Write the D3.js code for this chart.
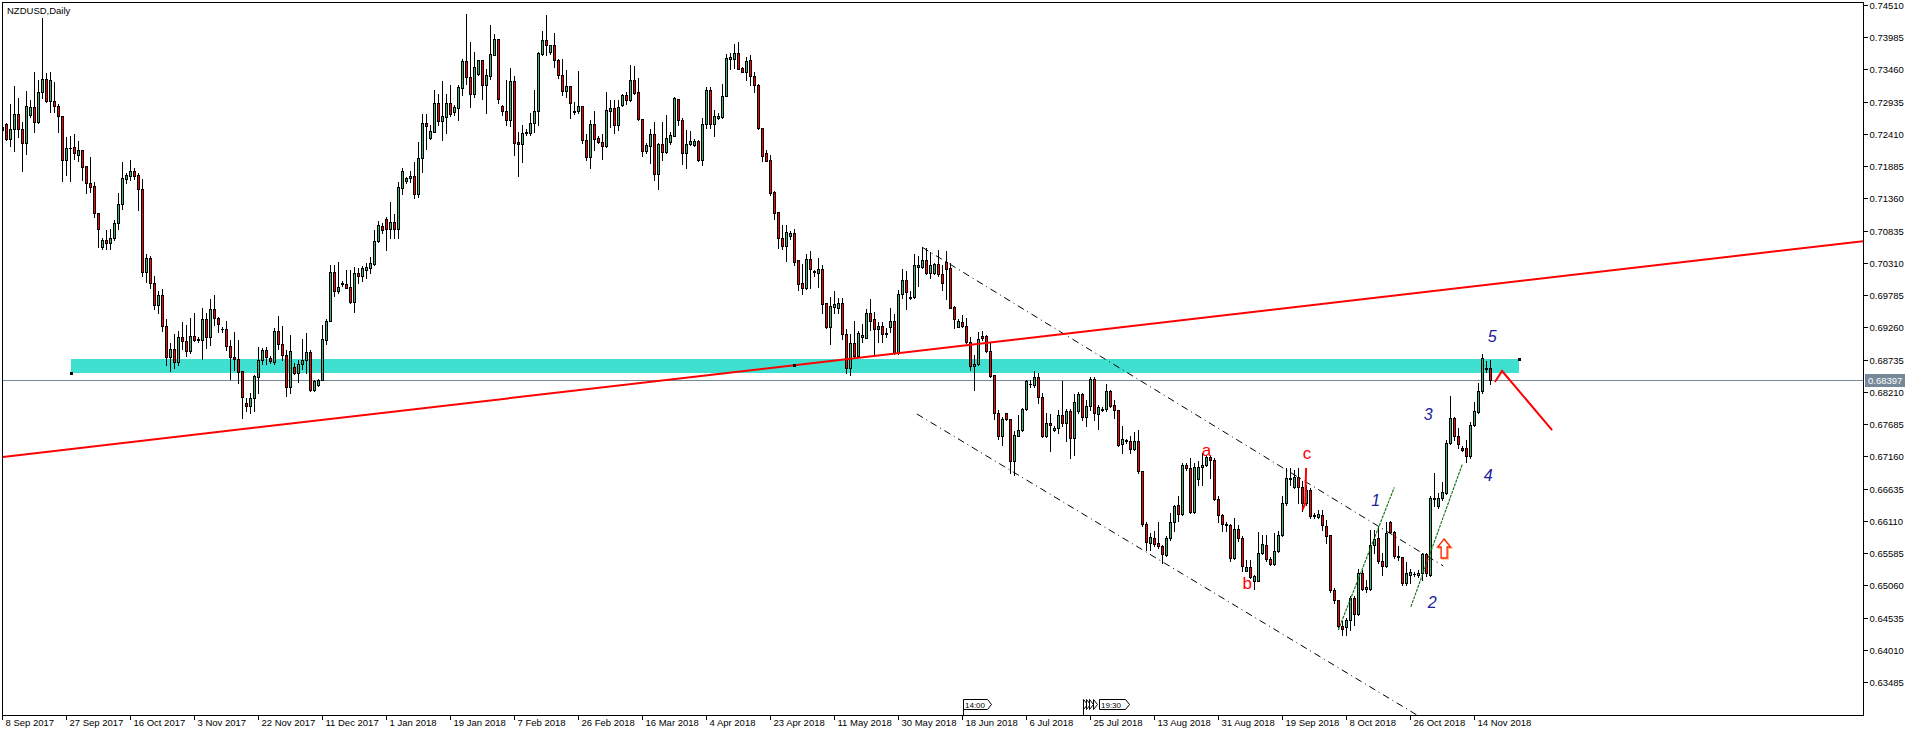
<!DOCTYPE html>
<html><head><meta charset="utf-8">
<script src="https://cdn.jsdelivr.net/npm/d3@7"></script>
<style>
html,body{margin:0;padding:0;background:#fff;overflow:hidden;}
svg{display:block;}
text{font-family:"Liberation Sans",Arial,sans-serif;}
</style></head><body>
<svg id="c" width="1916" height="734"></svg>
<script>
// ---------- DATA ----------
const symbolTitle = "NZDUSD,Daily";
// daily candles [open, high, low, close], oldest first
const ohlc = [
[0.72522,0.72587,0.72435,0.72468],[0.72576,0.72587,0.72305,0.72332],[0.72332,0.72901,0.72208,0.72495],[0.72495,0.73183,0.72132,0.72739],[0.72739,0.72999,0.72359,0.72484],
[0.72484,0.72603,0.71807,0.72267],[0.72262,0.73107,0.72088,0.72869],[0.72723,0.72966,0.72685,0.72853],[0.72853,0.73416,0.72441,0.72603],[0.72603,0.73281,0.72587,0.73097],
[0.73097,0.74300,0.72999,0.73308],[0.73308,0.73405,0.72929,0.72950],[0.72950,0.73411,0.72766,0.73292],[0.72939,0.73254,0.72766,0.72864],[0.72869,0.72891,0.72441,0.72706],
[0.72706,0.72706,0.71644,0.71985],[0.71985,0.72365,0.71736,0.72175],[0.72175,0.72370,0.71644,0.72186],[0.72191,0.72414,0.72007,0.72105],[0.72072,0.72294,0.71969,0.72154],
[0.72154,0.72154,0.71655,0.71871],[0.71882,0.71882,0.71438,0.71601],[0.71601,0.72034,0.71465,0.71546],[0.71557,0.71628,0.71059,0.71113],[0.71124,0.71124,0.70571,0.70864],
[0.70571,0.70712,0.70533,0.70674],[0.70679,0.70842,0.70538,0.70625],[0.70625,0.70858,0.70533,0.70706],[0.70706,0.71005,0.70679,0.70950],[0.70950,0.71449,0.70864,0.71275],
[0.71275,0.71947,0.71189,0.71698],[0.71682,0.71774,0.71601,0.71736],[0.71725,0.71980,0.71655,0.71812],[0.71812,0.71845,0.71682,0.71725],[0.71736,0.71774,0.71167,0.71519],
[0.71519,0.71682,0.70100,0.70160],[0.70160,0.70450,0.70000,0.70380],[0.70380,0.70420,0.69900,0.69980],[0.69980,0.70100,0.69550,0.69620],[0.69620,0.69850,0.69500,0.69780],
[0.69780,0.69880,0.69200,0.69280],[0.69280,0.69400,0.68650,0.68780],[0.68780,0.69000,0.68550,0.68900],[0.68900,0.69150,0.68600,0.68700],[0.68700,0.69200,0.68650,0.69100],
[0.69100,0.69350,0.68900,0.69040],[0.69038,0.69298,0.68799,0.68880],[0.68880,0.69406,0.68837,0.69113],[0.69113,0.69488,0.69043,0.69054],[0.69060,0.69108,0.69027,0.69070],
[0.69054,0.69569,0.68740,0.69390],[0.69390,0.69488,0.68918,0.69097],[0.69097,0.69715,0.68972,0.69552],[0.69552,0.69786,0.69292,0.69417],[0.69417,0.69433,0.69189,0.69309],
[0.69238,0.69271,0.69189,0.69227],[0.69233,0.69368,0.68891,0.68962],[0.68962,0.69054,0.68420,0.68772],[0.68777,0.69184,0.68566,0.68740],[0.68740,0.69054,0.68349,0.68539],
[0.68550,0.68550,0.67791,0.68133],[0.68035,0.68105,0.67889,0.67986],[0.67986,0.68187,0.67872,0.68105],[0.68105,0.68485,0.67889,0.68469],[0.68458,0.68945,0.68187,0.68729],
[0.68729,0.68918,0.68658,0.68891],[0.68891,0.68945,0.68658,0.68783],[0.68767,0.68794,0.68685,0.68707],[0.68702,0.69254,0.68658,0.69200],[0.69200,0.69444,0.68902,0.68983],
[0.68983,0.69281,0.68729,0.68810],[0.68810,0.68891,0.68149,0.68295],[0.68295,0.69135,0.68187,0.68875],[0.68615,0.68685,0.68501,0.68523],[0.68523,0.68729,0.68376,0.68658],
[0.68658,0.69065,0.68577,0.68729],[0.68729,0.69162,0.68512,0.68853],[0.68853,0.68891,0.68224,0.68241],[0.68241,0.68404,0.68224,0.68387],[0.68322,0.68425,0.68311,0.68398],
[0.68398,0.69292,0.68398,0.69070],[0.69054,0.69395,0.68989,0.69357],[0.69357,0.70273,0.69357,0.70154],[0.70154,0.70273,0.69769,0.69856],[0.69856,0.70317,0.69813,0.69910],
[0.69970,0.70013,0.69937,0.69981],[0.69959,0.70192,0.69894,0.69905],[0.69910,0.70192,0.69650,0.69677],[0.69677,0.70246,0.69515,0.70149],[0.70149,0.70219,0.69975,0.70100],
[0.70100,0.70257,0.70013,0.70219],[0.70192,0.70311,0.70067,0.70246],[0.70230,0.70398,0.70138,0.70311],[0.70284,0.70842,0.70273,0.70664],[0.70664,0.70989,0.70653,0.70924],
[0.70907,0.70951,0.70788,0.70842],[0.71016,0.71059,0.70517,0.70853],[0.70853,0.71303,0.70707,0.70967],[0.70967,0.71097,0.70707,0.70853],[0.70853,0.71628,0.70707,0.71542],
[0.71531,0.71856,0.71422,0.71802],[0.71639,0.71710,0.71601,0.71688],[0.71683,0.71807,0.71628,0.71715],[0.71715,0.71943,0.71368,0.71422],[0.71422,0.72279,0.71385,0.72024],
[0.72024,0.72740,0.71791,0.72593],[0.72593,0.72740,0.72170,0.72539],[0.72344,0.72550,0.72322,0.72452],[0.72441,0.73119,0.72441,0.72918],[0.72918,0.73065,0.72561,0.72620],
[0.72620,0.73276,0.72311,0.72696],[0.72685,0.73065,0.72430,0.72918],[0.72918,0.73211,0.72702,0.72729],[0.72767,0.72875,0.72723,0.72842],[0.72837,0.73200,0.72631,0.73168],
[0.73157,0.73623,0.73038,0.73590],[0.73590,0.74355,0.73222,0.73341],[0.73341,0.73905,0.72848,0.73065],[0.73065,0.73742,0.73011,0.73504],[0.73379,0.73607,0.73363,0.73607],
[0.73607,0.73607,0.72983,0.73211],[0.73211,0.73471,0.72750,0.73363],[0.73346,0.74176,0.73309,0.73704],[0.73699,0.74040,0.73688,0.73959],[0.73959,0.73959,0.72913,0.72983],
[0.72859,0.72886,0.72723,0.72788],[0.72788,0.73282,0.72550,0.72642],[0.72642,0.73482,0.72539,0.73265],[0.73265,0.73346,0.72062,0.72268],[0.72279,0.72441,0.71726,0.72236],
[0.72236,0.72550,0.71954,0.72430],[0.72420,0.72485,0.72387,0.72436],[0.72430,0.72756,0.72387,0.72593],[0.72593,0.73119,0.72441,0.72788],[0.72788,0.73742,0.72561,0.73721],
[0.73715,0.74084,0.73688,0.73932],[0.73932,0.74338,0.73688,0.73861],[0.73737,0.73861,0.73715,0.73851],[0.73851,0.74057,0.73498,0.73607],[0.73607,0.73623,0.73319,0.73374],
[0.73374,0.73623,0.73038,0.73113],[0.73102,0.73444,0.73005,0.73184],[0.73183,0.73183,0.72674,0.72912],[0.72782,0.72929,0.72739,0.72772],[0.72777,0.73427,0.72750,0.72869],
[0.72869,0.72869,0.72262,0.72316],[0.72316,0.72403,0.71991,0.72034],[0.72034,0.72641,0.71845,0.72576],[0.72576,0.72782,0.72143,0.72327],[0.72338,0.72370,0.72268,0.72284],
[0.72284,0.72403,0.71996,0.72213],[0.72213,0.73086,0.72197,0.72793],[0.72782,0.72967,0.72522,0.72837],[0.72837,0.72956,0.72425,0.72560],[0.72560,0.72956,0.72468,0.72853],
[0.72875,0.73064,0.72858,0.73048],[0.73048,0.73091,0.72891,0.72956],[0.72956,0.73525,0.72945,0.73281],[0.73281,0.73514,0.73064,0.73075],[0.73086,0.73319,0.72631,0.72647],
[0.72658,0.72658,0.72045,0.72132],[0.72132,0.72262,0.72099,0.72224],[0.72213,0.72490,0.71937,0.72403],[0.72403,0.72598,0.71655,0.71763],[0.71763,0.72262,0.71514,0.72240],
[0.72240,0.72598,0.71980,0.72116],[0.72116,0.72712,0.72105,0.72349],[0.72273,0.72435,0.72251,0.72387],[0.72381,0.73010,0.72370,0.72988],[0.72983,0.72983,0.72549,0.72641],
[0.72641,0.72674,0.71926,0.72090],[0.72090,0.72468,0.71861,0.72251],[0.72240,0.72457,0.72224,0.72289],[0.72235,0.72327,0.72219,0.72300],[0.72300,0.72305,0.71969,0.71980],
[0.71980,0.72674,0.71910,0.72576],[0.72576,0.73173,0.72506,0.73129],[0.73129,0.73173,0.72511,0.72576],[0.72576,0.72793,0.72381,0.72696],[0.72674,0.72750,0.72658,0.72696],
[0.72685,0.73227,0.72674,0.73021],[0.73021,0.73715,0.73021,0.73650],[0.73633,0.73725,0.73460,0.73655],[0.73633,0.73866,0.73476,0.73731],[0.73731,0.73899,0.73460,0.73471],
[0.73482,0.73498,0.73411,0.73422],[0.73422,0.73660,0.73281,0.73595],[0.73606,0.73687,0.73200,0.73346],[0.73346,0.73417,0.73091,0.73200],[0.73200,0.73227,0.72490,0.72506],
[0.72506,0.72506,0.71964,0.72051],[0.72105,0.72143,0.71964,0.71970],[0.71981,0.72062,0.71411,0.71449],[0.71466,0.71476,0.71016,0.71124],[0.71130,0.71130,0.70544,0.70707],
[0.70707,0.70924,0.70528,0.70588],[0.70588,0.70924,0.70338,0.70804],[0.70750,0.70826,0.70696,0.70788],[0.70788,0.70859,0.70273,0.70327],[0.70349,0.70349,0.69867,0.69970],
[0.69975,0.70284,0.69807,0.69905],[0.69905,0.70452,0.69883,0.70371],[0.70371,0.70501,0.69905,0.70203],[0.70170,0.70197,0.70100,0.70159],[0.70148,0.70382,0.69921,0.70208],
[0.70208,0.70273,0.69498,0.69645],[0.69650,0.69661,0.69254,0.69265],[0.69265,0.69748,0.68994,0.69607],[0.69596,0.69851,0.69498,0.69640],[0.69580,0.69731,0.69498,0.69661],
[0.69661,0.69731,0.69070,0.69146],[0.69146,0.69233,0.68512,0.68604],[0.68604,0.69151,0.68485,0.69000],[0.69000,0.69368,0.68783,0.68799],[0.68799,0.69200,0.68783,0.69162],
[0.69108,0.69309,0.69027,0.69135],[0.69092,0.69558,0.69081,0.69487],[0.69487,0.69715,0.69216,0.69368],[0.69390,0.69515,0.68810,0.69227],[0.69227,0.69352,0.69027,0.69282],
[0.69282,0.69341,0.69027,0.69146],[0.69168,0.69254,0.69108,0.69157],[0.69271,0.69569,0.69189,0.69363],[0.69363,0.69477,0.68821,0.68837],[0.68837,0.69867,0.68821,0.69796],
[0.69796,0.70208,0.69731,0.70030],[0.70030,0.70176,0.69558,0.69840],[0.69753,0.69851,0.69721,0.69742],[0.69748,0.70447,0.69731,0.70273],[0.70246,0.70425,0.69937,0.70273],
[0.70246,0.70561,0.70219,0.70349],[0.70349,0.70544,0.70132,0.70148],[0.70148,0.70490,0.70057,0.70273],[0.70148,0.70306,0.70132,0.70284],[0.70284,0.70517,0.70100,0.70121],
[0.70121,0.70273,0.69867,0.69986],[0.70327,0.70501,0.69715,0.70203],[0.70219,0.70301,0.69569,0.69580],[0.69596,0.69607,0.69244,0.69390],[0.69271,0.69390,0.69260,0.69363],
[0.69352,0.69461,0.69260,0.69282],[0.69282,0.69406,0.68999,0.69016],[0.69016,0.69097,0.68566,0.68637],[0.68637,0.68810,0.68241,0.68664],[0.68664,0.69190,0.68648,0.69070],
[0.69119,0.69206,0.69054,0.69092],[0.69119,0.69135,0.68853,0.68875],[0.68875,0.68999,0.68458,0.68469],[0.68485,0.68485,0.67769,0.67862],[0.67862,0.67916,0.67439,0.67498],
[0.67498,0.67807,0.67347,0.67769],[0.67862,0.67872,0.67753,0.67769],[0.67769,0.67769,0.66886,0.67076],[0.67076,0.67564,0.66859,0.67509],[0.67498,0.67824,0.67482,0.67591],
[0.67580,0.67943,0.67564,0.67926],[0.67926,0.68404,0.67916,0.68387],[0.68344,0.68404,0.68295,0.68333],[0.68315,0.68555,0.68295,0.68458],[0.68458,0.68523,0.68035,0.68133],
[0.68133,0.68196,0.67466,0.67498],[0.67498,0.67862,0.67466,0.67699],[0.67704,0.67851,0.67238,0.67666],[0.67580,0.67645,0.67564,0.67618],[0.67618,0.67916,0.67536,0.67835],
[0.67835,0.68387,0.67645,0.67699],[0.67699,0.67926,0.67401,0.67889],[0.67889,0.67926,0.67130,0.67455],[0.67455,0.68171,0.67184,0.68051],[0.67889,0.68214,0.67872,0.68176],
[0.68176,0.68187,0.67753,0.67797],[0.67797,0.68078,0.67656,0.67981],[0.67981,0.68458,0.67916,0.68414],[0.68414,0.68458,0.67753,0.67862],[0.67851,0.67997,0.67601,0.67959],
[0.67932,0.67954,0.67889,0.67921],[0.67926,0.68339,0.67905,0.68227],[0.68227,0.68241,0.67970,0.67986],[0.67997,0.68078,0.67780,0.67916],[0.67916,0.67916,0.67320,0.67347],
[0.67363,0.67645,0.67211,0.67444],[0.67417,0.67444,0.67374,0.67407],[0.67412,0.67493,0.67211,0.67276],[0.67276,0.67553,0.67265,0.67401],[0.67401,0.67591,0.66886,0.66913],
[0.66924,0.66924,0.66019,0.66057],[0.66057,0.66089,0.65639,0.65764],[0.65748,0.65910,0.65639,0.65840],[0.65829,0.65937,0.65693,0.65731],[0.65742,0.66089,0.65666,0.65693],
[0.65704,0.65720,0.65422,0.65569],[0.65558,0.65856,0.65531,0.65829],[0.65829,0.66235,0.65802,0.66089],[0.66089,0.66371,0.65937,0.66344],[0.66371,0.66506,0.66111,0.66219],
[0.66219,0.67048,0.66208,0.67010],[0.67010,0.67048,0.66940,0.66967],[0.66967,0.67130,0.66235,0.66252],[0.66252,0.67048,0.66235,0.66978],[0.66788,0.67075,0.66696,0.66983],
[0.66983,0.67211,0.66696,0.67021],[0.67010,0.67184,0.66994,0.67140],[0.67140,0.67184,0.66804,0.67097],[0.67097,0.67130,0.66452,0.66468],[0.66468,0.66517,0.66089,0.66208],
[0.66208,0.66219,0.65937,0.66057],[0.66057,0.66089,0.65937,0.66035],[0.66046,0.66057,0.65460,0.65504],[0.65504,0.66154,0.65493,0.65981],[0.65981,0.66046,0.65775,0.65829],
[0.65829,0.65856,0.65287,0.65368],[0.65298,0.65471,0.65287,0.65357],[0.65357,0.65476,0.65178,0.65189],[0.65135,0.65233,0.65005,0.65206],[0.65135,0.65926,0.65124,0.65585],
[0.65585,0.65883,0.65569,0.65731],[0.65720,0.65883,0.65449,0.65493],[0.65493,0.65525,0.65384,0.65406],[0.65406,0.65910,0.65395,0.65623],[0.65612,0.65937,0.65601,0.65872],
[0.65872,0.66506,0.65856,0.66398],[0.66398,0.66967,0.66371,0.66804],[0.66794,0.66967,0.66696,0.66804],[0.66653,0.66940,0.66642,0.66815],[0.66815,0.66967,0.66398,0.66653],
[0.66653,0.66750,0.66262,0.66398],[0.66398,0.66696,0.66371,0.66615],[0.66615,0.66642,0.66154,0.66181],[0.66208,0.66235,0.66154,0.66181],[0.66165,0.66290,0.66154,0.66219],
[0.66208,0.66290,0.65964,0.66035],[0.66030,0.66127,0.65748,0.65867],[0.65883,0.65883,0.64946,0.64978],[0.64989,0.65016,0.64772,0.64816],[0.64816,0.64816,0.64382,0.64393],
[0.64393,0.64475,0.64257,0.64349],[0.64382,0.64530,0.64257,0.64501],[0.64501,0.64881,0.64338,0.64854],[0.64854,0.64881,0.64420,0.64599],[0.64599,0.65325,0.64583,0.65260],
[0.65260,0.65314,0.64978,0.65000],[0.65000,0.65152,0.64946,0.65032],[0.65000,0.65965,0.64989,0.65721],[0.65721,0.65965,0.65585,0.65813],[0.65829,0.66019,0.65423,0.65450],
[0.65450,0.65585,0.65233,0.65368],[0.65368,0.66084,0.65358,0.65910],[0.66084,0.66100,0.65910,0.65921],[0.65921,0.65938,0.65504,0.65542],[0.65542,0.65694,0.65477,0.65520],
[0.65520,0.65520,0.65070,0.65098],[0.65098,0.65433,0.65070,0.65260],[0.65233,0.65325,0.65098,0.65276],[0.65244,0.65271,0.65206,0.65250],[0.65233,0.65314,0.65195,0.65260],
[0.65260,0.65585,0.65152,0.65569],[0.65569,0.65585,0.65206,0.65260],[0.65233,0.66507,0.65206,0.66480],[0.66463,0.66886,0.66344,0.66480],[0.66344,0.66562,0.66317,0.66480],
[0.66480,0.66736,0.66452,0.66572],[0.66562,0.67428,0.66550,0.67374],[0.67374,0.68143,0.67363,0.67780],[0.67780,0.67807,0.67428,0.67482],[0.67482,0.67618,0.67292,0.67363],
[0.67292,0.67320,0.67238,0.67265],[0.67292,0.67428,0.67059,0.67157],[0.67157,0.67726,0.67130,0.67672],[0.67661,0.68051,0.67645,0.67889],[0.67878,0.68360,0.67862,0.68225],
[0.68225,0.68826,0.68187,0.68756],[0.68604,0.68718,0.68539,0.68577],[0.68593,0.68729,0.68333,0.68397]
];
const dateLabels = ["8 Sep 2017","27 Sep 2017","16 Oct 2017","3 Nov 2017","22 Nov 2017","11 Dec 2017","1 Jan 2018","19 Jan 2018","7 Feb 2018","26 Feb 2018","16 Mar 2018","4 Apr 2018","23 Apr 2018","11 May 2018","30 May 2018","18 Jun 2018","6 Jul 2018","25 Jul 2018","13 Aug 2018","31 Aug 2018","19 Sep 2018","8 Oct 2018","26 Oct 2018","14 Nov 2018"];
const barsPerDateLabel = 16;
const priceTicks = [0.74510,0.73985,0.73460,0.72935,0.72410,0.71885,0.71360,0.70835,0.70310,0.69785,0.69260,0.68735,0.68210,0.67685,0.67160,0.66635,0.66110,0.65585,0.65060,0.64535,0.64010,0.63485];
const lastPrice = 0.68397;
// drawn objects (bar index, price)
const zoneBars = [17, 379];
const zonePrices = [0.68743, 0.68520];
const trendBars = [0, 372];
const trendPrices = [0.67148, 0.69958];
const trendAnchorBar = 197.9;
const projBars = [373.1, 374.9, 387.4];
const projPrices = [0.68369, 0.68548, 0.67587];
const chanUpBars = [229.95, 360.2];
const chanUpPrices = [0.70562, 0.65374];
const chanLoBars = [228.6, 356.9];
const chanLoPrices = [0.67848, 0.62818];
const green1Bars = [333.95, 347.95];
const green1Prices = [0.64332, 0.66653];
const green2Bars = [352.1, 364.95];
const green2Prices = [0.64711, 0.67030];
const arrowBar = 360.4;
const arrowPrices = [0.65813, 0.65504];
const cMarkBars = [325.9, 325.7, 325.0];
const cMarkPrices = [0.66970, 0.66400, 0.66286];
const abcLabels = ["a", "b", "c"];
const abcBars = [301.0, 311.2, 326.1];
const abcPrices = [0.67262, 0.65092, 0.67208];
const waveLabels = ["1", "2", "3", "4", "5"];
const waveBars = [343.3, 357.45, 356.45, 371.45, 372.4];
const wavePrices = [0.66448, 0.64782, 0.67848, 0.66855, 0.69102];
const eventLabels = ["14:00", "19:30"];
const eventBars = [240, 274];

// ---------- CHART ----------
const svg = d3.select('#c');
const P = {left: 2, top: 2, right: 1863, bottom: 715};
const x = d3.scaleLinear().domain([0, 372]).range([2.5, 2.5 + 4 * 372]);
const y = d3.scaleLinear().domain([0.63485, 0.74510]).range([682, 4.8]);
const ry = v => Math.round(y(v));

svg.append('rect').attr('width', 1916).attr('height', 734).attr('fill', '#fff');
svg.append('defs').append('clipPath').attr('id', 'clip').append('rect')
  .attr('x', P.left + 1).attr('y', P.top + 1).attr('width', P.right - P.left - 1).attr('height', P.bottom - P.top - 1);
const g = svg.append('g').attr('clip-path', 'url(#clip)');

// support zone (background)
g.append('rect').attr('shape-rendering', 'crispEdges')
  .attr('x', Math.round(x(zoneBars[0]))).attr('width', Math.round(x(zoneBars[1])) - Math.round(x(zoneBars[0])))
  .attr('y', ry(zonePrices[0])).attr('height', ry(zonePrices[1]) - ry(zonePrices[0]))
  .attr('fill', '#40E0D0');

// current price line
g.append('line').attr('x1', P.left).attr('x2', P.right)
  .attr('y1', ry(lastPrice) + 0.5).attr('y2', ry(lastPrice) + 0.5)
  .attr('stroke', '#778899').attr('stroke-width', 1);

// candles
const rows = ohlc.map((d, i) => ({i, o: d[0], h: d[1], l: d[2], c: d[3]}));
const cg = g.append('g').attr('shape-rendering', 'crispEdges');
cg.selectAll('rect.wick').data(rows).join('rect').attr('class', 'wick')
  .attr('x', d => x(d.i) - 0.5).attr('width', 1)
  .attr('y', d => ry(d.h)).attr('height', d => Math.max(1, ry(d.l) - ry(d.h) + 1))
  .attr('fill', '#000');
cg.selectAll('rect.body').data(rows).join('rect').attr('class', 'body')
  .attr('x', d => x(d.i) - 1.5).attr('width', 3)
  .attr('y', d => ry(Math.max(d.o, d.c)))
  .attr('height', d => ry(Math.min(d.o, d.c)) - ry(Math.max(d.o, d.c)) + 1)
  .attr('fill', '#000');
cg.selectAll('rect.fillc').data(rows.filter(d => ry(Math.min(d.o, d.c)) - ry(Math.max(d.o, d.c)) > 1))
  .join('rect').attr('class', 'fillc')
  .attr('x', d => x(d.i) - 0.5).attr('width', 1)
  .attr('y', d => ry(Math.max(d.o, d.c)) + 1)
  .attr('height', d => ry(Math.min(d.o, d.c)) - ry(Math.max(d.o, d.c)) - 1)
  .attr('fill', d => d.c >= d.o ? '#3CB371' : '#FF0000');

const line = d3.line().x(d => x(d[0])).y(d => y(d[1]));
const pts = (bs, ps) => bs.map((b, k) => [b, ps[k]]);

// channel lines (dash-dot)
[[chanUpBars, chanUpPrices], [chanLoBars, chanLoPrices]].forEach(([b, p]) => {
  g.append('path').attr('d', line(pts(b, p))).attr('fill', 'none')
    .attr('stroke', '#000').attr('stroke-width', 1).attr('stroke-dasharray', '7,4,1,4');
});
// green lines
[[green1Bars, green1Prices], [green2Bars, green2Prices]].forEach(([b, p]) => {
  g.append('path').attr('d', line(pts(b, p))).attr('fill', 'none')
    .attr('stroke', '#0a6e0a').attr('stroke-width', 1.1).attr('stroke-dasharray', '3,1');
});

// red trendline extended across the chart
const slope = (trendPrices[1] - trendPrices[0]) / (trendBars[1] - trendBars[0]);
const tX0 = x.invert(P.left), tX1 = x.invert(P.right);
g.append('path').attr('d', line([[tX0, trendPrices[0] + slope * (tX0 - trendBars[0])], [tX1, trendPrices[0] + slope * (tX1 - trendBars[0])]]))
  .attr('stroke', '#FF0000').attr('stroke-width', 2).attr('fill', 'none');
// projection
g.append('path').attr('d', line(pts(projBars, projPrices)))
  .attr('stroke', '#FF0000').attr('stroke-width', 2).attr('fill', 'none');
// c mark
g.append('path').attr('d', line(pts(cMarkBars, cMarkPrices)))
  .attr('stroke', '#FF0000').attr('stroke-width', 2).attr('fill', 'none');

// handles
const handles = [[zoneBars[0], zonePrices[1]], [zoneBars[1], zonePrices[0]], [trendAnchorBar, trendPrices[0] + slope * (trendAnchorBar - trendBars[0])]];
g.selectAll('rect.handle').data(handles).join('rect').attr('class', 'handle')
  .attr('x', d => Math.round(x(d[0])) - 1).attr('y', d => ry(d[1]) - 1).attr('width', 3).attr('height', 3).attr('fill', '#000');

// up arrow
{
  const ax = x(arrowBar), at = y(arrowPrices[0]), ab = y(arrowPrices[1]);
  const hh = 8;
  const path = `M${ax},${at} L${ax + 6.5},${at + hh} L${ax + 3},${at + hh} L${ax + 3},${ab} L${ax - 3},${ab} L${ax - 3},${at + hh} L${ax - 6.5},${at + hh} Z`;
  g.append('path').attr('d', path).attr('transform', 'translate(1,1)').attr('fill', 'none').attr('stroke', '#FFA040').attr('stroke-width', 1.2);
  g.append('path').attr('d', path).attr('fill', '#fff').attr('stroke', '#FF2000').attr('stroke-width', 1.3);
}

// labels
g.selectAll('text.abc').data(abcLabels).join('text').attr('class', 'abc')
  .attr('x', (d, k) => x(abcBars[k])).attr('y', (d, k) => y(abcPrices[k]))
  .attr('text-anchor', 'middle').attr('dominant-baseline', 'central')
  .attr('font-size', 17).attr('fill', '#FF0000').text(d => d);
g.selectAll('text.wave').data(waveLabels).join('text').attr('class', 'wave')
  .attr('x', (d, k) => x(waveBars[k])).attr('y', (d, k) => y(wavePrices[k]))
  .attr('text-anchor', 'middle').attr('dominant-baseline', 'central')
  .attr('font-size', 16).attr('font-style', 'italic').attr('fill', '#20209a').text(d => d);

// event markers at bottom
{
  const eg = g.append('g').attr('shape-rendering', 'crispEdges');
  const e0 = Math.round(x(eventBars[0]));
  const box = (x0, w, label) => {
    eg.append('path').attr('d', `M${x0 + 0.5},699.5 H${x0 + w - 3.5} L${x0 + w + 0.5},704.5 L${x0 + w - 3.5},709.5 H${x0 + 0.5} Z`)
      .attr('fill', '#fff').attr('stroke', '#000').attr('stroke-width', 1).attr('shape-rendering', 'auto');
    if (label) eg.append('text').attr('x', x0 + 2).attr('y', 707.5).attr('font-size', 8).attr('fill', '#000').text(label);
  };
  eg.append('line').attr('x1', e0 + 0.5).attr('x2', e0 + 0.5).attr('y1', 709).attr('y2', 715).attr('stroke', '#000');
  box(e0, 28, eventLabels[0]);
  const e1 = Math.round(x(eventBars[1]));
  [-16, -13, -10, -6].forEach(o => box(e1 + o, 4, null));
  eg.append('line').attr('x1', e1 - 15.5).attr('x2', e1 - 15.5).attr('y1', 709).attr('y2', 715).attr('stroke', '#000');
  box(e1, 30, eventLabels[1]);
}

// frame
svg.append('rect').attr('x', P.left + 0.5).attr('y', P.top + 0.5)
  .attr('width', P.right - P.left).attr('height', P.bottom - P.top)
  .attr('fill', 'none').attr('stroke', '#000').attr('stroke-width', 1).attr('shape-rendering', 'crispEdges');

// title
svg.append('text').attr('x', 7).attr('y', 13.5).attr('font-size', 9.5).attr('fill', '#000').text(symbolTitle);

// price axis
const ya = d3.axisRight(y).tickValues(priceTicks).tickSize(4).tickPadding(2)
  .tickFormat(d => d.toFixed(5)).offset(0);
const yg = svg.append('g').attr('transform', `translate(${P.right + 0.5},0)`).call(ya);
yg.select('.domain').remove();
yg.selectAll('.tick').attr('transform', d => `translate(0,${ry(d) + 0.5})`);
yg.selectAll('.tick line').attr('stroke', '#000').attr('shape-rendering', 'crispEdges');
yg.selectAll('.tick text').attr('font-size', 9.5).attr('font-family', '"Liberation Sans",Arial,sans-serif').attr('fill', '#000');

// current price tag
{
  const yy = ry(lastPrice);
  svg.append('rect').attr('x', P.right + 2).attr('y', yy - 6).attr('width', 40).attr('height', 13).attr('fill', '#778899');
  svg.append('text').attr('x', P.right + 5).attr('y', yy + 0.5).attr('dominant-baseline', 'central')
    .attr('font-size', 9.5).attr('fill', '#fff').text(lastPrice.toFixed(5));
}

// date axis
const xa = d3.axisBottom(x).tickValues(d3.range(0, ohlc.length, barsPerDateLabel))
  .tickFormat((d, k) => dateLabels[k]).tickSize(4).offset(0);
const xg = svg.append('g').attr('transform', `translate(0,${P.bottom + 0.5})`).call(xa);
xg.select('.domain').remove();
xg.selectAll('.tick line').attr('stroke', '#000').attr('shape-rendering', 'crispEdges');
xg.selectAll('.tick text').attr('text-anchor', 'start').attr('x', 3).attr('y', 10.5).attr('dy', null)
  .attr('font-size', 9.5).attr('font-family', '"Liberation Sans",Arial,sans-serif').attr('fill', '#000');
</script>
</body></html>
